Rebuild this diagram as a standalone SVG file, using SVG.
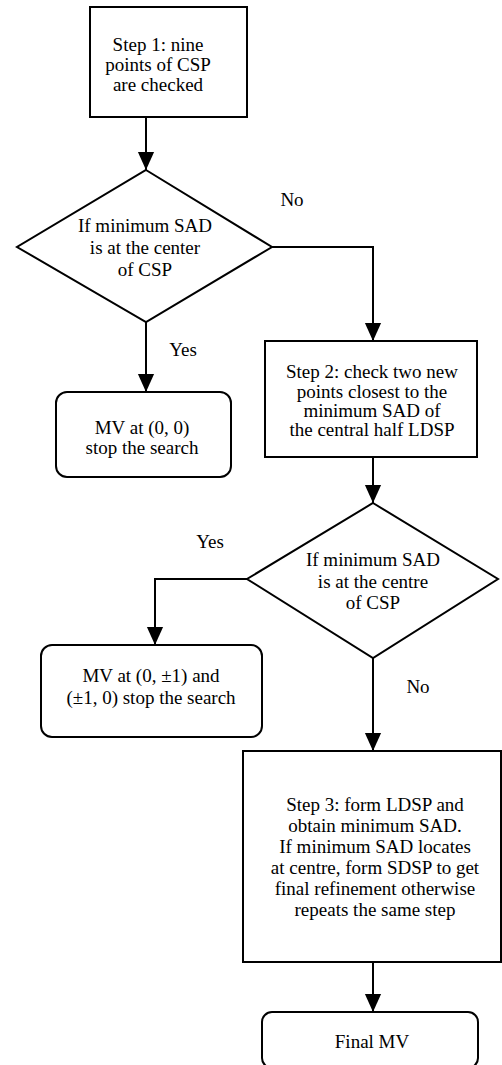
<svg xmlns="http://www.w3.org/2000/svg" width="502" height="1065" viewBox="0 0 502 1065">
<style>
.shape{fill:#fff;stroke:#000;stroke-width:2}
.edge{fill:none;stroke:#000;stroke-width:2}
text{font-family:"Liberation Serif","Times New Roman",serif;font-size:19px;fill:#000;text-anchor:middle}
</style>
<defs>
<marker id="arr" markerUnits="userSpaceOnUse" markerWidth="18" markerHeight="20" viewBox="0 0 20 18" refX="20" refY="9" orient="auto">
<path d="M0,0 L20,9 L0,18 Z" fill="#000"/>
</marker>
</defs>
<rect width="502" height="1065" fill="#fff"/>
<g id="connectors">
<path class="edge" d="M146,117 V170" marker-end="url(#arr)"/>
<path class="edge" d="M146,322 V392" marker-end="url(#arr)"/>
<path class="edge" d="M272,247 H373 V341" marker-end="url(#arr)"/>
<path class="edge" d="M373,457 V503" marker-end="url(#arr)"/>
<path class="edge" d="M247,579 H155 V645" marker-end="url(#arr)"/>
<path class="edge" d="M373,658 V751" marker-end="url(#arr)"/>
<path class="edge" d="M373,962 V1012" marker-end="url(#arr)"/>
<text x="292" y="206">No</text>
<text x="183" y="356">Yes</text>
<text x="210" y="548">Yes</text>
<text x="418" y="693">No</text>
</g>
<g id="step1">
<rect class="shape" x="90" y="7" width="157" height="110"/>
<text x="158" y="51">Step 1: nine</text>
<text x="158" y="71">points of CSP</text>
<text x="158" y="91">are checked</text>
</g>
<g id="decision1">
<polygon class="shape" points="146,170 272,247 146,322 17,247"/>
<text x="145" y="232">If minimum SAD</text>
<text x="145" y="254">is at the center</text>
<text x="145" y="276">of CSP</text>
</g>
<g id="mv00">
<rect class="shape" x="56" y="392" width="175" height="85" rx="11"/>
<text x="142" y="434">MV at (0, 0)</text>
<text x="142" y="454">stop the search</text>
</g>
<g id="step2">
<rect class="shape" x="265" y="341" width="212" height="116"/>
<text x="372" y="378">Step 2: check two new</text>
<text x="372" y="398">points closest to the</text>
<text x="372" y="417">minimum SAD of</text>
<text x="372" y="436">the central half LDSP</text>
</g>
<g id="decision2">
<polygon class="shape" points="373,503 498,579 373,658 247,579"/>
<text x="373" y="566">If minimum SAD</text>
<text x="373" y="588">is at the centre</text>
<text x="373" y="609">of CSP</text>
</g>
<g id="mv01">
<rect class="shape" x="41" y="645" width="221" height="92" rx="11"/>
<text x="151" y="682">MV at (0, ±1) and</text>
<text x="151" y="704">(±1, 0) stop the search</text>
</g>
<g id="step3">
<rect class="shape" x="243" y="751" width="258" height="211"/>
<text x="375" y="811">Step 3: form LDSP and</text>
<text x="375" y="832">obtain minimum SAD.</text>
<text x="375" y="853">If minimum SAD locates</text>
<text x="375" y="874">at centre, form SDSP to get</text>
<text x="375" y="895">final refinement otherwise</text>
<text x="375" y="916">repeats the same step</text>
</g>
<g id="final">
<rect class="shape" x="262" y="1012" width="216" height="56" rx="10"/>
<text x="372" y="1048">Final MV</text>
</g>
</svg>
